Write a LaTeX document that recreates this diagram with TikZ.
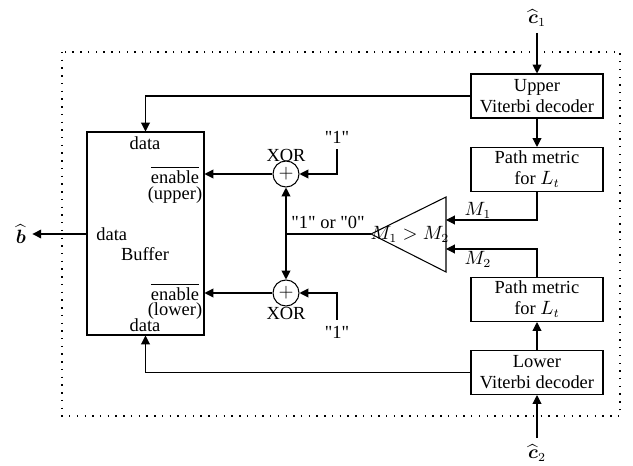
\documentclass[tikz,border=0pt]{standalone}
\usepackage{amsmath}
\usepackage{fontspec}
\setmainfont{Liberation Serif}
\usepackage{tikz}
\usetikzlibrary{calc,arrows.meta}

\begin{document}
\begin{tikzpicture}[x=0.02cm, y=-0.02cm, >={Triangle[length=5pt,width=5pt]}, semithick,
        font=\fontsize{10.5}{12}\selectfont,
        block/.style={draw, minimum width=2.64cm, minimum height=0.88cm, align=center, inner sep=1pt},
        xorgate/.style={draw, circle, minimum size=0.52cm, inner sep=0pt},
        frame/.style={dash pattern=on 0.8pt off 3.6pt}]
        \useasboundingbox (0,0) rectangle (633,466);

        % Decoder frame
        \draw[frame] (62,52) rectangle (620,416);

        % Viterbi decoders and path metrics
        \node[block] (upvit) at (537,96) {Upper\\Viterbi decoder};
        \node[block] (uppm) at (537,169.5) {Path metric\\for $L_t$};
        \node[block] (lowpm) at (537,299.5) {Path metric\\for $L_t$};
        \node[block] (lowvit) at (537,372.5) {Lower\\Viterbi decoder};

        \node (c1) at (537,18) {$\widehat{\boldsymbol{c}}_1$};
        \node (c2) at (537,453) {$\widehat{\boldsymbol{c}}_2$};
        \draw[->] (upvit.north |- c1.south) -- (upvit.north);
        \draw[->] (lowvit.south |- c2.north) -- (lowvit.south);
        \draw[->] (upvit) -- (uppm);
        \draw[->] (lowvit) -- (lowpm);

        % Comparator
        \coordinate (cmpTip) at (371,234);
        \coordinate (cmpTop) at (446,197);
        \coordinate (cmpBot) at (446,272);
        \coordinate (cmpIn1) at (446,220);
        \coordinate (cmpIn2) at (446,249);
        \draw (cmpTip) -- (cmpTop) -- (cmpBot) -- cycle;
        \node (cmp) at (410,234) {$M_1 > M_2$};
        \draw[->] (uppm.south) |- (cmpIn1);
        \draw[->] (lowpm.north) |- (cmpIn2);
        \node (m1) at (478,210) {$M_1$};
        \node (m2) at (478,259) {$M_2$};

        % Buffer
        \node[draw, minimum width=2.34cm, minimum height=4.06cm, inner sep=0pt] (buffer) at (145.5,233.5) {};
        \node (dtop) at (145,143) {data};
        \node[anchor=west] (dout) at (90,234) {data};
        \node (buf) at (145,254) {Buffer};
        \node (dbot) at (145,325) {data};
        \node (enU) at (175,175) {$\overline{\mbox{enable}}$};
        \node (upU) at (175,195) {(upper)};
        \node (enL) at (175,292) {$\overline{\mbox{enable}}$};
        \node (lwL) at (175,311) {(lower)};
        \node (bhat) at (21,234) {$\widehat{\boldsymbol{b}}$};
        \draw[->] (buffer.west |- bhat) -- (bhat);
        \draw[->] (upvit.west) -| (buffer.north);
        \draw[->] (lowvit.west) -| (buffer.south);

        % XOR gates
        \node[xorgate] (xorU) at (286,174) {$+$};
        \node[xorgate] (xorL) at (286,293) {$+$};
        \node (xlU) at (286,155) {XOR};
        \node (xlL) at (286,313) {XOR};
        \node (one1) at (337,137) {\textquotedbl1\textquotedbl};
        \node (one2) at (337,332) {\textquotedbl1\textquotedbl};
        \draw[->] (one1.south) |- (xorU.east);
        \draw[->] (one2.north) |- (xorL.east);
        \draw[->] (xorU.west) -- (buffer.east |- xorU);
        \draw[->] (xorL.west) -- (buffer.east |- xorL);

        % Select line
        \coordinate (sel) at (xorU |- cmpTip);
        \draw (cmpTip) -- (sel);
        \draw[<->] (xorU.south) -- (xorL.north);
        \node (selbl) at (328,222) {\textquotedbl1\textquotedbl{} or \textquotedbl0\textquotedbl};
\end{tikzpicture}
\end{document}
